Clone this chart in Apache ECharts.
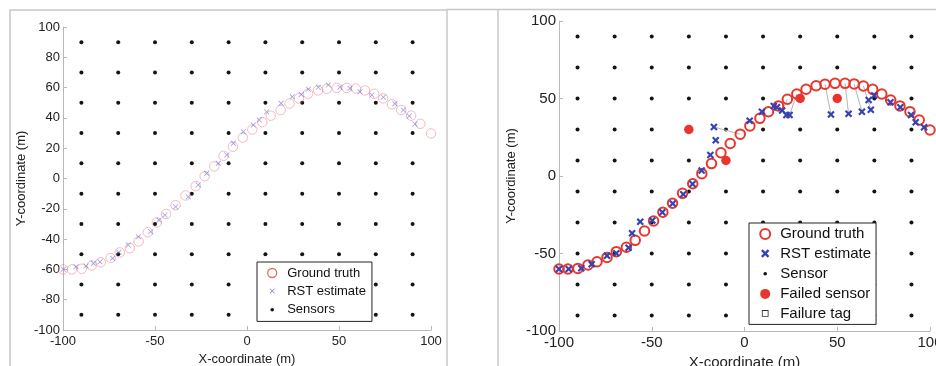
<!DOCTYPE html>
<html>
<head>
<meta charset="utf-8">
<script src="https://cdn.jsdelivr.net/npm/echarts@6/dist/echarts.min.js"></script>
<style>
  html, body { margin: 0; padding: 0; background: #fff; }
  #chart { width: 936px; height: 366px; }
</style>
</head>
<body>
<div id="chart"></div>
<script>
// ground truth trajectory (same path in both panels)
const truthX = [-100, -95.2, -89.8, -84.4, -79.5, -74.1, -69.1, -63.7, -58.9, -53.9, -49, -44, -38.8, -33.4,
  -27.9, -23, -17.8, -12.7, -7.7, -2.3, 2.9, 8.3, 12.9, 18.3, 23.1, 28.2, 33.2, 38.6, 43.4, 48.8, 54.2, 59.1,
  64.1, 69.1, 74, 78.8, 83.8, 89.2, 94.2, 100];
const truthY = [-60, -60, -59.6, -57.4, -55.3, -52.5, -48.8, -46, -41.5, -35.5, -29, -23.4, -17.6, -11.2,
  -5, 1.5, 8, 15, 21, 27, 32.3, 37.2, 41.5, 45.2, 49.5, 52.9, 56, 58.2, 59.2, 59.8, 59.8, 59.4,
  58.1, 55.9, 52.9, 49, 45.2, 41.5, 36.1, 29.7];

// left panel: estimates with all sensors working
const leftEstX = [-99.8, -92.9, -87.5, -83.5, -79.9, -73, -69.6, -64.5, -59, -52.3, -47.8, -44.6, -38.8, -31.9,
  -26.5, -21.9, -15.6, -11, -7.4, -2, 3.4, 6.7, 10.7, 18.5, 24.6, 29.5, 33.3, 38.8, 44.2, 50.5, 56, 61.4,
  67.8, 74.1, 80.4, 85, 88.2, 91.3];
const leftEstY = [-59.9, -58.2, -57.8, -56, -55, -52.7, -48.7, -43.9, -38.4, -35.1, -27.5, -24.1, -18.6, -12,
  -4.3, 3.4, 10, 15.5, 23.2, 30.9, 35.3, 38.6, 44.1, 49.6, 54, 55.5, 58.9, 60.2, 61.7, 60.2, 59.5, 57.3,
  55.1, 53.6, 49.4, 45.2, 41.3, 36];

// right panel: estimates with failed sensors
const rightEstX = [-100, -94.8, -88, -82.4, -74.1, -69.1, -62.5, -60.6, -56.2, -49.7, -44.3, -38.7, -33, -28,
  -23.1, -18.4, -15.5, -16.5, 2.8, 9.4, 15.8, 17.5, 20.3, 22.6, 24.3, 46.6, 56.1, 63.3, 68.1, 66.9, 69.9,
  78.7, 84, 89.8, 92.3, 96.8];
const rightEstY = [-60, -60, -59.5, -57, -51.5, -49.9, -46.3, -37, -29.5, -28.7, -23.4, -17.8, -11.7, -5.2,
  3.5, 13.5, 23, 31.6, 35.7, 41.5, 45.2, 44.3, 42.3, 39.4, 39.4, 39.7, 40.2, 41.5, 42.8, 49, 52,
  47.6, 44.3, 39.4, 34.7, 31.4];

const sensorX = [-90, -70, -50, -30, -10, 10, 30, 50, 70, 90];
const sensorY = [90, 70, 50, 30, 10, -10, -30, -50, -70, -90];
const failedX = [-30, -10, 30, 50];
const failedY = [30, 10, 50, 50];

// grey links between true position and a displaced estimate
const linkTruthX = [-2.3, 23.1, 28.2, 43.4, 54.2, 59.1, 64.1];
const linkTruthY = [27, 49.5, 52.9, 59.2, 59.8, 59.4, 58.1];
const linkEstX = [-16.5, 20.3, 24.3, 46.6, 56.1, 63.3, 68.1];
const linkEstY = [31.6, 42.3, 39.4, 39.7, 40.2, 41.5, 42.8];

const xTicks = [-100, -50, 0, 50, 100];
const leftYTicks = [-100, -80, -60, -40, -20, 0, 20, 40, 60, 80, 100];
const rightYTicks = [-100, -50, 0, 50, 100];

const zip = (xs, ys) => xs.map((x, i) => [x, ys[i]]);
const sensors = [];
sensorX.forEach((x) => sensorY.forEach((y) => sensors.push([x, y])));

const crossThin = "path://M1,0L5,4L9,0L10,1L6,5L10,9L9,10L5,6L1,10L0,9L4,5L0,1Z";
const crossBold = "path://M0,2L2,0L5,3L8,0L10,2L7,5L10,8L8,10L5,7L2,10L0,8L3,5Z";
// padded variants so the legend draws them smaller than the icon box
const crossThinIcon = "path://M-4,-4L-4,-4M1,0L5,4L9,0L10,1L6,5L10,9L9,10L5,6L1,10L0,9L4,5L0,1ZM14,14L14,14";
const crossBoldIcon = "path://M-1,-1L-1,-1M0,2L2,0L5,3L8,0L10,2L7,5L10,8L8,10L5,7L2,10L0,8L3,5ZM11,11L11,11";
const tagIcon = "path://M-2,-2L-2,-2M0,0H8V8H0ZM1,1V7H7V1ZM10,10L10,10";

const font = "'Liberation Sans', Arial, sans-serif";
const rightNames = {
  gt2: "Ground truth",
  rst2: "RST estimate",
  sensor2: "Sensor",
  failed2: "Failed sensor",
  tag2: "Failure tag",
};

function makeXAxis(gridIndex, size, margin, gap) {
  return {
    gridIndex,
    type: "value",
    min: xTicks[0],
    max: xTicks[xTicks.length - 1],
    interval: xTicks[1] - xTicks[0],
    name: "X-coordinate (m)",
    nameLocation: "middle",
    nameGap: gap,
    nameTextStyle: { color: "#222", fontSize: size, fontFamily: font },
    axisLine: { show: true, onZero: false, lineStyle: { color: "#b8b8b8", width: 1 } },
    axisTick: { show: true, inside: true, length: 4, lineStyle: { color: "#b8b8b8" } },
    axisLabel: { color: "#222", fontSize: size, fontFamily: font, margin },
    splitLine: { show: false },
  };
}

function makeYAxis(gridIndex, ticks, size, nameSize, gap) {
  return {
    gridIndex,
    type: "value",
    min: ticks[0],
    max: ticks[ticks.length - 1],
    interval: ticks[1] - ticks[0],
    name: "Y-coordinate (m)",
    nameLocation: "middle",
    nameGap: gap,
    nameTextStyle: { color: "#222", fontSize: nameSize, fontFamily: font },
    axisLine: { show: true, onZero: false, lineStyle: { color: "#b8b8b8", width: 1 } },
    axisTick: { show: true, inside: true, length: 4, lineStyle: { color: "#b8b8b8" } },
    axisLabel: { color: "#222", fontSize: size, fontFamily: font, margin: 3 },
    splitLine: { show: false },
  };
}

const chart = echarts.init(document.getElementById("chart"));

chart.setOption({
  animation: false,
  backgroundColor: "#fff",
  graphic: [
    { type: "rect", shape: { x: 10, y: 10, width: 437, height: 400 }, style: { fill: "none", stroke: "#c8c8c8", lineWidth: 1.5 }, silent: true },
    { type: "line", shape: { x1: 447, y1: 9.5, x2: 936, y2: 9.5 }, style: { stroke: "#c8c8c8", lineWidth: 1.5 }, silent: true },
    { type: "line", shape: { x1: 498, y1: 9.5, x2: 498, y2: 366 }, style: { stroke: "#c8c8c8", lineWidth: 1.5 }, silent: true },
  ],
  grid: [
    { left: 63, top: 27, width: 368, height: 303, outerBoundsMode: "none" },
    { left: 559, top: 21, width: 371, height: 310, outerBoundsMode: "none" },
  ],
  xAxis: [makeXAxis(0, 13, 5, 19), makeXAxis(1, 15, 4, 20)],
  yAxis: [makeYAxis(0, leftYTicks, 13, 13, 35), makeYAxis(1, rightYTicks, 15, 13, 41)],
  legend: [
    {
      left: 257,
      top: 262,
      orient: "vertical",
      selectedMode: false,
      backgroundColor: "#fff",
      borderColor: "#222",
      borderWidth: 1,
      padding: [4.5, 6, 4.5, 8],
      itemWidth: 20,
      itemHeight: 9,
      itemGap: 5,
      textStyle: { color: "#111", fontSize: 13, fontFamily: font },
      data: [
        { name: "Ground truth", icon: "circle", itemStyle: { color: "rgba(0,0,0,0)", borderColor: "#e46a6a", borderWidth: 1.3, opacity: 1 } },
        { name: "RST estimate", icon: crossThinIcon, itemStyle: { color: "#6f7fd0", borderWidth: 0, opacity: 1 } },
        { name: "Sensors", icon: "circle", itemStyle: { color: "#111", borderColor: "#fff", borderWidth: 5.4, opacity: 1 } },
      ],
    },
    {
      left: 749,
      top: 223,
      orient: "vertical",
      selectedMode: false,
      backgroundColor: "#fff",
      borderColor: "#222",
      borderWidth: 1,
      padding: [3.5, 5, 3.5, 8],
      itemWidth: 20,
      itemHeight: 10,
      itemGap: 4.5,
      formatter: (name) => rightNames[name],
      textStyle: { color: "#111", fontSize: 15, fontFamily: font },
      data: [
        { name: "gt2", icon: "circle", itemStyle: { color: "rgba(0,0,0,0)", borderColor: "#e8352e", borderWidth: 2, opacity: 1 } },
        { name: "rst2", icon: crossBoldIcon, itemStyle: { color: "#3443b0", borderWidth: 0, opacity: 1 } },
        { name: "sensor2", icon: "circle", itemStyle: { color: "#111", borderColor: "#fff", borderWidth: 6.4, opacity: 1 } },
        { name: "failed2", icon: "circle", itemStyle: { color: "#e8352e", borderWidth: 0, opacity: 1 } },
        { name: "tag2", icon: tagIcon, itemStyle: { color: "#333", borderWidth: 0, opacity: 1 } },
      ],
    },
  ],
  series: [
    // left panel
    {
      name: "Sensors",
      type: "scatter",
      xAxisIndex: 0,
      yAxisIndex: 0,
      data: sensors,
      symbol: "circle",
      symbolSize: 4,
      itemStyle: { color: "#141414", opacity: 1 },
      silent: true,
      z: 1,
    },
    {
      name: "Ground truth",
      type: "scatter",
      xAxisIndex: 0,
      yAxisIndex: 0,
      data: zip(truthX, truthY),
      symbol: "circle",
      symbolSize: 9.5,
      itemStyle: { color: "rgba(0,0,0,0)", borderColor: "rgba(232,120,130,0.5)", borderWidth: 1, opacity: 1 },
      silent: true,
      z: 2,
    },
    {
      name: "RST estimate",
      type: "scatter",
      xAxisIndex: 0,
      yAxisIndex: 0,
      data: zip(leftEstX, leftEstY),
      symbol: crossThin,
      symbolSize: 5.5,
      itemStyle: { color: "rgba(100,105,210,0.65)", opacity: 1 },
      silent: true,
      z: 3,
    },
    // right panel
    {
      name: "sensor2",
      type: "scatter",
      xAxisIndex: 1,
      yAxisIndex: 1,
      data: sensors,
      symbol: "circle",
      symbolSize: 4,
      itemStyle: { color: "#141414", opacity: 1 },
      silent: true,
      z: 1,
    },
    {
      name: "links",
      type: "lines",
      coordinateSystem: "cartesian2d",
      xAxisIndex: 1,
      yAxisIndex: 1,
      data: linkTruthX.map((x, i) => ({ coords: [[x, linkTruthY[i]], [linkEstX[i], linkEstY[i]]] })),
      lineStyle: { color: "#b4b4b4", width: 1, opacity: 1 },
      silent: true,
      z: 2,
    },
    {
      name: "failed2",
      type: "scatter",
      xAxisIndex: 1,
      yAxisIndex: 1,
      data: zip(failedX, failedY),
      symbol: "circle",
      symbolSize: 9.5,
      itemStyle: { color: "#e8352e", opacity: 1 },
      silent: true,
      z: 3,
    },
    {
      name: "gt2",
      type: "scatter",
      xAxisIndex: 1,
      yAxisIndex: 1,
      data: zip(truthX, truthY),
      symbol: "circle",
      symbolSize: 9.5,
      itemStyle: { color: "rgba(0,0,0,0)", borderColor: "#e8352e", borderWidth: 2, opacity: 1 },
      silent: true,
      z: 4,
    },
    {
      name: "rst2",
      type: "scatter",
      xAxisIndex: 1,
      yAxisIndex: 1,
      data: zip(rightEstX, rightEstY),
      symbol: crossBold,
      symbolSize: 7.5,
      itemStyle: { color: "#3443b0", opacity: 1 },
      silent: true,
      z: 5,
    },
    {
      name: "tag2",
      type: "scatter",
      xAxisIndex: 1,
      yAxisIndex: 1,
      data: [],
      symbol: "rect",
      itemStyle: { color: "#333", opacity: 1 },
      silent: true,
    },
  ],
});
</script>
</body>
</html>
